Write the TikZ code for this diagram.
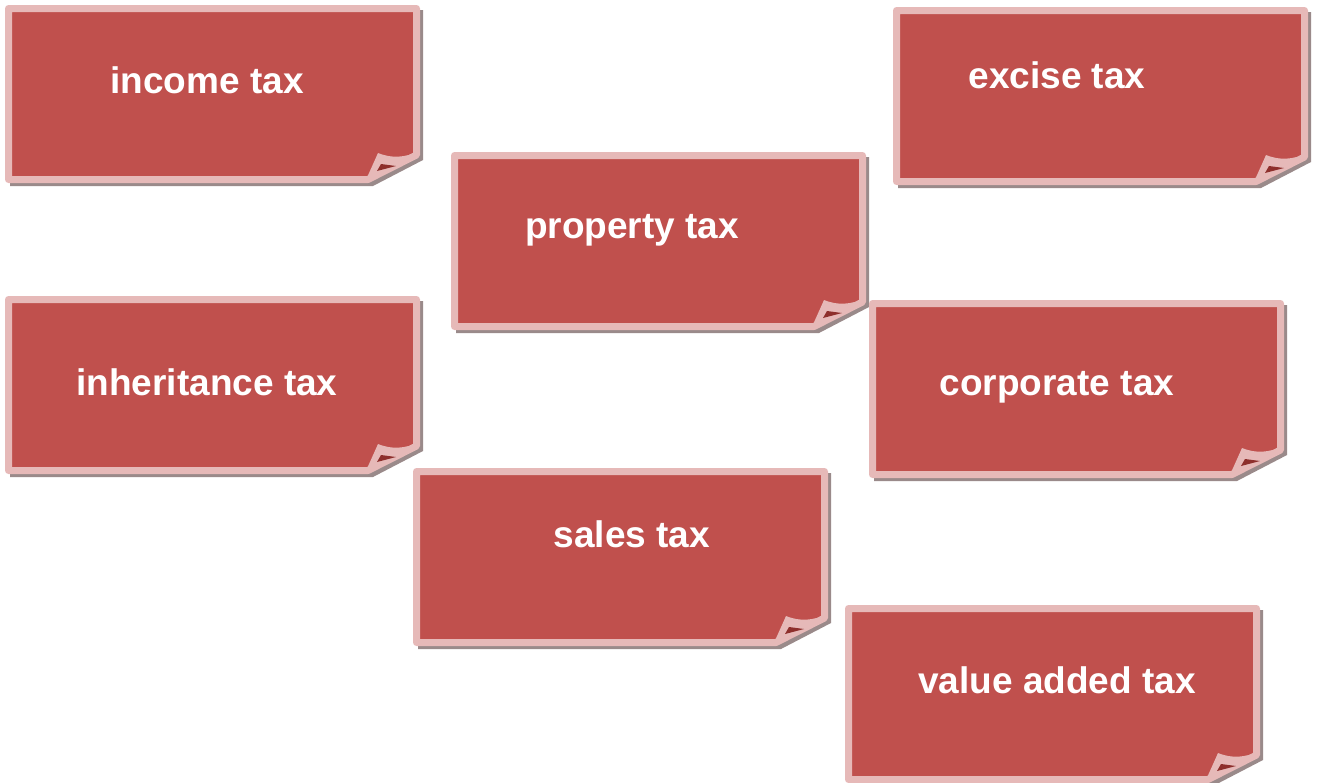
\documentclass[tikz,border=0pt]{standalone}
\usepackage{fontspec}
\setmainfont{Liberation Sans}
\definecolor{notered}{HTML}{C0504D}
\definecolor{notepink}{HTML}{E6B9B8}
\definecolor{notegray}{HTML}{9A8A8A}
\definecolor{notedark}{HTML}{8E2F2C}
\tikzset{
  noteshadow/.style = {fill = notegray},
  notebody/.style = {fill = notered, draw = notepink, line width = 7pt, line join = round},
  notefold/.style = {fill = notepink},
  notecurl/.style = {fill = notedark},
  notetext/.style = {text = white, font = \fontsize{37}{44}\selectfont\bfseries, inner sep = 0pt, text depth = 0pt}
}
% one sticky note: x, y of the top left corner, name, text position, text
\newcommand{\taxnote}[6]{%
  \begin{scope}[shift = {(#1,#2)}]
    \fill [noteshadow] (5,5) -- (418,5) -- (418,155) -- (368,181) -- (5,181) -- cycle;
    \draw [notebody] (3.5,3.5) -- (411.5,3.5) -- (411.5,150) -- (363,174.5) -- (3.5,174.5) -- cycle;
    \fill [notefold] (360,177) -- (373,148) .. controls (388,154) and (399,152) .. (414,147) -- (414,152) -- cycle;
    \fill [notecurl] (376,159) -- (391,161) -- (372,166) -- cycle;
  \end{scope}
  \node [notetext] (#3) at (#4,#5) {#6};
}
\begin{document}
\begin{tikzpicture}[x = 1pt, y = -1pt]
  \useasboundingbox (0,0) rectangle (1321,782);
  \taxnote{5}{5}{income}{207}{80}{income tax}
  \taxnote{893}{7}{excise}{1057}{75}{excise tax}
  \taxnote{451}{152}{property}{632}{226}{property tax}
  \taxnote{5}{296}{inheritance}{207}{382}{inheritance tax}
  \taxnote{869}{300}{corporate}{1057}{383}{corporate tax}
  \taxnote{413}{468}{sales}{632}{534}{sales tax}
  \taxnote{845}{605}{valueadded}{1057}{680}{value added tax}
\end{tikzpicture}
\end{document}
